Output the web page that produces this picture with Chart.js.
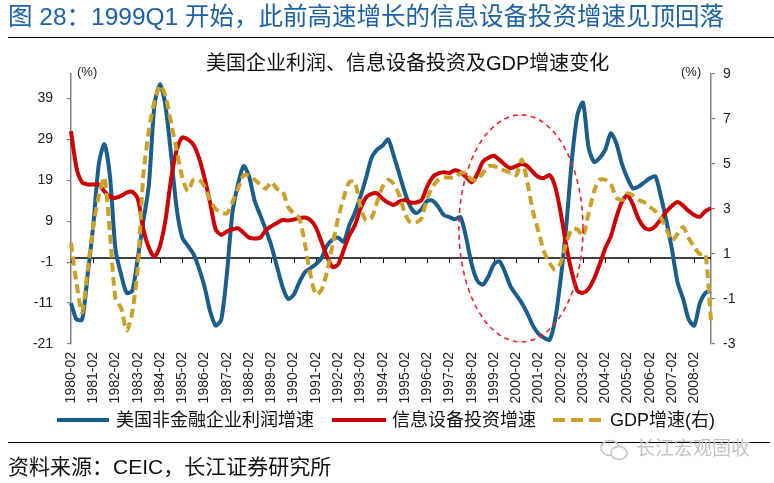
<!DOCTYPE html>
<html>
<head>
<meta charset="utf-8">
<script src="https://cdn.jsdelivr.net/npm/chart.js@4.4.1/dist/chart.umd.min.js"></script>
<style>
  html, body { margin: 0; padding: 0; background: #fff; }
  body { width: 774px; height: 483px; position: relative; overflow: hidden;
         font-family: "Liberation Sans", "Noto Sans CJK SC", sans-serif; }
  #c { position: absolute; left: 0; top: 0; }
  .abs { position: absolute; white-space: nowrap; }
  #title { left: 8px; top: 2px; font-size: 24.5px; line-height: 30px; color: #1E62A6; }
  #rule1 { left: 8px; right: 0; top: 37px; height: 0; border-top: 1.5px solid #000; }
  #sub { left: 206px; top: 50px; font-size: 20px; line-height: 26px; color: #111; }
  .pct { top: 64px; font-size: 13px; line-height: 16px; color: #222; }
  .leg { top: 408px; font-size: 18px; line-height: 24px; color: #111; }
  #rule2 { left: 8px; width: 762px; top: 442px; height: 0; border-top: 1.5px solid #000; }
  #src { left: 8px; top: 453px; font-size: 21px; line-height: 28px; color: #111; }
  #wm { left: 636px; top: 437px; font-size: 19px; line-height: 24px; color: #c4c4c4; }
</style>
</head>
<body>
<canvas id="c" width="774" height="483"></canvas>
<div class="abs" id="title">图 28：1999Q1 开始，此前高速增长的信息设备投资增速见顶回落</div>
<div class="abs" id="rule1"></div>
<div class="abs" id="sub">美国企业利润、信息设备投资及GDP增速变化</div>
<div class="abs pct" style="left:77px;">(%)</div>
<div class="abs pct" style="left:681px;">(%)</div>

<svg class="abs" style="left:0;top:408px;" width="774" height="24">
  <line x1="57" y1="12" x2="109" y2="12" stroke="#1B5E8C" stroke-width="4"/>
  <line x1="332" y1="12" x2="386" y2="12" stroke="#CC0000" stroke-width="4"/>
  <line x1="553" y1="12" x2="603" y2="12" stroke="#C9A12B" stroke-width="4" stroke-dasharray="12,6"/>
</svg>
<div class="abs leg" style="left:116px;">美国非金融企业利润增速</div>
<div class="abs leg" style="left:392px;">信息设备投资增速</div>
<div class="abs leg" style="left:610px;">GDP增速(右)</div>

<div class="abs" id="rule2"></div>
<div class="abs" id="src">资料来源：CEIC，长江证券研究所</div>
<svg class="abs" style="left:598px;top:437px;" width="34" height="26">
  <ellipse cx="12" cy="11" rx="9" ry="7.5" fill="none" stroke="#c4c4c4" stroke-width="1.5"/>
  <ellipse cx="21" cy="16" rx="8" ry="6.5" fill="#fff" stroke="#c4c4c4" stroke-width="1.5"/>
</svg>
<div class="abs" id="wm">长江宏观固收</div>

<script>
// ---- categories: quarterly, labelled by month ----
const years = [];
for (let y = 1980; y <= 2008; y++) years.push(y);
const months = ['02', '05', '08', '11'];
const categories = [];
years.forEach(y => months.forEach(m => categories.push(y + '-' + m)));

// ---- series values ----
const profitGrowth = [
  -11, -15, -15, -4, 8, 23, 27.8, 20, 2, -4, -8.5, -8,
  0, 9, 18, 37.5, 42.5, 37, 25, 12, 5, 3, 1, -2.5,
  -7, -13, -16.5, -15, -4, 11, 18, 22.5, 20, 14, 10.5, 7,
  3, -2, -7, -10, -9, -6, -3.5, -2.5, -1.5, 0, 3, 4.5,
  5, 4, 8, 11, 15, 19.5, 24.5, 26.5, 27.5, 29, 25, 20.5,
  16, 12.5, 11, 12, 14, 14, 12.5, 10.5, 10, 9.5, 10, 5,
  -1.5, -5.5, -6.5, -4.5, -1.5, -0.8, -3.5, -7, -9, -11, -13.5, -16.5,
  -18.5, -19.5, -20, -15, -5, 8, 24, 35, 38, 27, 23.5, 24.5,
  26.5, 30.5, 28, 23, 19.5, 17, 17.5, 18.5, 19.5, 20, 15, 9,
  2, -6, -10, -15, -16.5, -11, -8.5, -8
];
const itInvestGrowth = [
  31, 22, 18.5, 18, 18, 18, 16.3, 15, 14.7, 15.2, 16, 16.2,
  14.5, 7, 2.5, 0.3, 3, 9.5, 19.5, 26.5, 29.5, 29, 27.7, 24.5,
  19.5, 13.5, 7, 5.7, 6.5, 7, 7.3, 6.2, 5, 4.8, 5, 6.8,
  7.8, 8.6, 9.3, 9.2, 9.4, 9.8, 9.9, 9.3, 7.5, 4, 0.4, -2.2,
  -1.5, 2, 5.5, 8, 12, 14.8, 15.7, 15.8, 14.5, 13.5, 13, 13.8,
  14.2, 13.6, 13.6, 14.2, 17.5, 19.8, 20.7, 21, 20.8, 21.5, 21, 19.8,
  18.5, 20.5, 23.5, 24.5, 25, 24, 22.8, 22, 22.5, 23, 22.5, 21,
  19.8, 19.6, 20.3, 17.5, 11, 3, -3.5, -8, -8.5, -7.5, -5, -1.5,
  2.4, 5.3, 10, 13.8, 15.4, 13, 9.5, 7.5, 7, 7.8, 9.5, 11.4,
  12.8, 13.7, 12.8, 11.5, 10.5, 10.1, 11.5, 12.2
];
const gdpGrowth = [
  1.5, -0.3, -1.6, 0.3, 2.2, 3.6, 4.4, 1.9, -1.0, -1.4, -2.4, -1.6,
  0.4, 4.5, 6.5, 7.8, 8.5, 8.0, 6.8, 5.6, 4.4, 3.8, 4.3, 4.3,
  4.0, 3.4, 3.0, 2.85, 2.8, 3.3, 3.9, 4.5, 4.5, 4.3, 4.1, 3.9,
  4.2, 3.9, 3.8, 3.1, 2.8, 2.6, 1.5, 0.1, -0.8, -0.6, 0.2, 1.4,
  2.6, 3.5, 4.2, 4.2, 3.1, 2.5, 2.6, 3.3, 4.0, 4.3, 4.1, 3.6,
  2.8, 2.4, 2.4, 2.6, 3.5, 4.0, 4.3, 4.4, 4.4, 4.4, 4.6, 4.6,
  4.3, 4.3, 4.6, 4.9, 4.9, 4.8, 4.7, 4.6, 4.5, 5.2, 4.2, 2.9,
  2.0, 1.1, 0.6, 0.3, 0.6, 1.5, 2.1, 2.1, 1.8, 2.8, 3.8, 4.3,
  4.3, 4.1, 3.5, 3.4, 3.7, 3.6, 3.4, 3.3, 3.1, 2.9, 2.6, 2.1,
  1.6, 1.9, 2.2, 1.7, 1.3, 1.0, 1.0, -2.0
];

// ---- tick labels ----
const leftTicks = [-21, -11, -1, 9, 19, 29, 39];
const leftRange = [-21, 45];
const rightTicks = [-3, -1, 1, 3, 5, 7, 9];
const rightRange = [-3, 9];
const axisCrossValue = 0;          // horizontal axis crosses left axis at 0
// highlighted region (dashed ellipse), in data units
const highlight = { fromIndex: 69.7, toIndex: 92, top: 35, bottom: -20.5 };

const FONT = '"Liberation Sans", "Noto Sans CJK SC", sans-serif';

const crossAxisPlugin = {
  id: 'crossAxis',
  beforeDatasetsDraw(chart) {
    const { ctx, chartArea, scales } = chart;
    const y0 = scales.y.getPixelForValue(axisCrossValue);
    ctx.save();
    ctx.strokeStyle = '#000';
    ctx.lineWidth = 1.5;
    ctx.beginPath();
    ctx.moveTo(chartArea.left, y0);
    ctx.lineTo(chartArea.right, y0);
    ctx.stroke();
    ctx.lineWidth = 1;
    categories.forEach((c, i) => {
      if (i % 4 !== 0) return;
      const x = Math.round(scales.x.getPixelForValue(i)) + 0.5;
      ctx.beginPath();
      ctx.moveTo(x, y0);
      ctx.lineTo(x, y0 + 5);
      ctx.stroke();
    });
    ctx.restore();
  },
  afterDatasetsDraw(chart) {
    const { ctx, scales } = chart;
    const x1 = scales.x.getPixelForValue(highlight.fromIndex);
    const x2 = scales.x.getPixelForValue(highlight.toIndex);
    const yt = scales.y.getPixelForValue(highlight.top);
    const yb = scales.y.getPixelForValue(highlight.bottom);
    ctx.save();
    ctx.strokeStyle = '#E8262A';
    ctx.lineWidth = 1.6;
    ctx.setLineDash([5, 4]);
    ctx.beginPath();
    ctx.ellipse((x1 + x2) / 2, (yt + yb) / 2, (x2 - x1) / 2, (yb - yt) / 2, 0, 0, Math.PI * 2);
    ctx.stroke();
    ctx.restore();
  }
};

new Chart(document.getElementById('c'), {
  type: 'line',
  data: {
    labels: categories,
    datasets: [
      { label: '美国非金融企业利润增速', data: profitGrowth, yAxisID: 'y',
        borderColor: '#1B5E8C', borderWidth: 4, order: 3 },
      { label: '信息设备投资增速', data: itInvestGrowth, yAxisID: 'y',
        borderColor: '#CC0000', borderWidth: 4, order: 2 },
      { label: 'GDP增速(右)', data: gdpGrowth, yAxisID: 'y2',
        borderColor: '#C9A12B', borderWidth: 4, borderDash: [9, 5], order: 1 }
    ]
  },
  options: {
    responsive: false,
    animation: false,
    devicePixelRatio: 1,
    layout: { padding: { top: 74, bottom: 77, left: 0, right: 0 } },
    elements: {
      point: { radius: 0 },
      line: { tension: 0.25, fill: false, borderCapStyle: 'butt', borderJoinStyle: 'round' }
    },
    plugins: { legend: { display: false }, tooltip: { enabled: false }, title: { display: false } },
    scales: {
      x: {
        type: 'category',
        offset: false,
        grid: { display: false, drawTicks: false, tickLength: 0 },
        border: { display: false },
        afterFit(s) { s.height = 62; },
        ticks: {
          autoSkip: false, maxRotation: 90, minRotation: 90, padding: 8,
          color: '#222', font: { family: FONT, size: 14 },
          callback: (v, i) => (i % 4 === 0 ? categories[i] : '')
        }
      },
      y: {
        position: 'left',
        min: leftRange[0], max: leftRange[1],
        afterBuildTicks(s) { s.ticks = leftTicks.map(v => ({ value: v })); },
        afterFit(s) { s.width = 71; },
        grid: { drawOnChartArea: false, drawTicks: true, tickLength: 4, color: '#808080', lineWidth: 1.2 },
        border: { display: true, color: '#808080', width: 1.5 },
        ticks: { padding: 14, color: '#222', font: { family: FONT, size: 14 } }
      },
      y2: {
        position: 'right',
        min: rightRange[0], max: rightRange[1],
        afterBuildTicks(s) { s.ticks = rightTicks.map(v => ({ value: v })); },
        afterFit(s) { s.width = 63; },
        grid: { drawOnChartArea: false, drawTicks: true, tickLength: 4, color: '#808080', lineWidth: 1.2 },
        border: { display: true, color: '#808080', width: 1.5 },
        ticks: { padding: 8, color: '#222', font: { family: FONT, size: 14 } }
      }
    }
  },
  plugins: [crossAxisPlugin]
});
</script>
</body>
</html>
